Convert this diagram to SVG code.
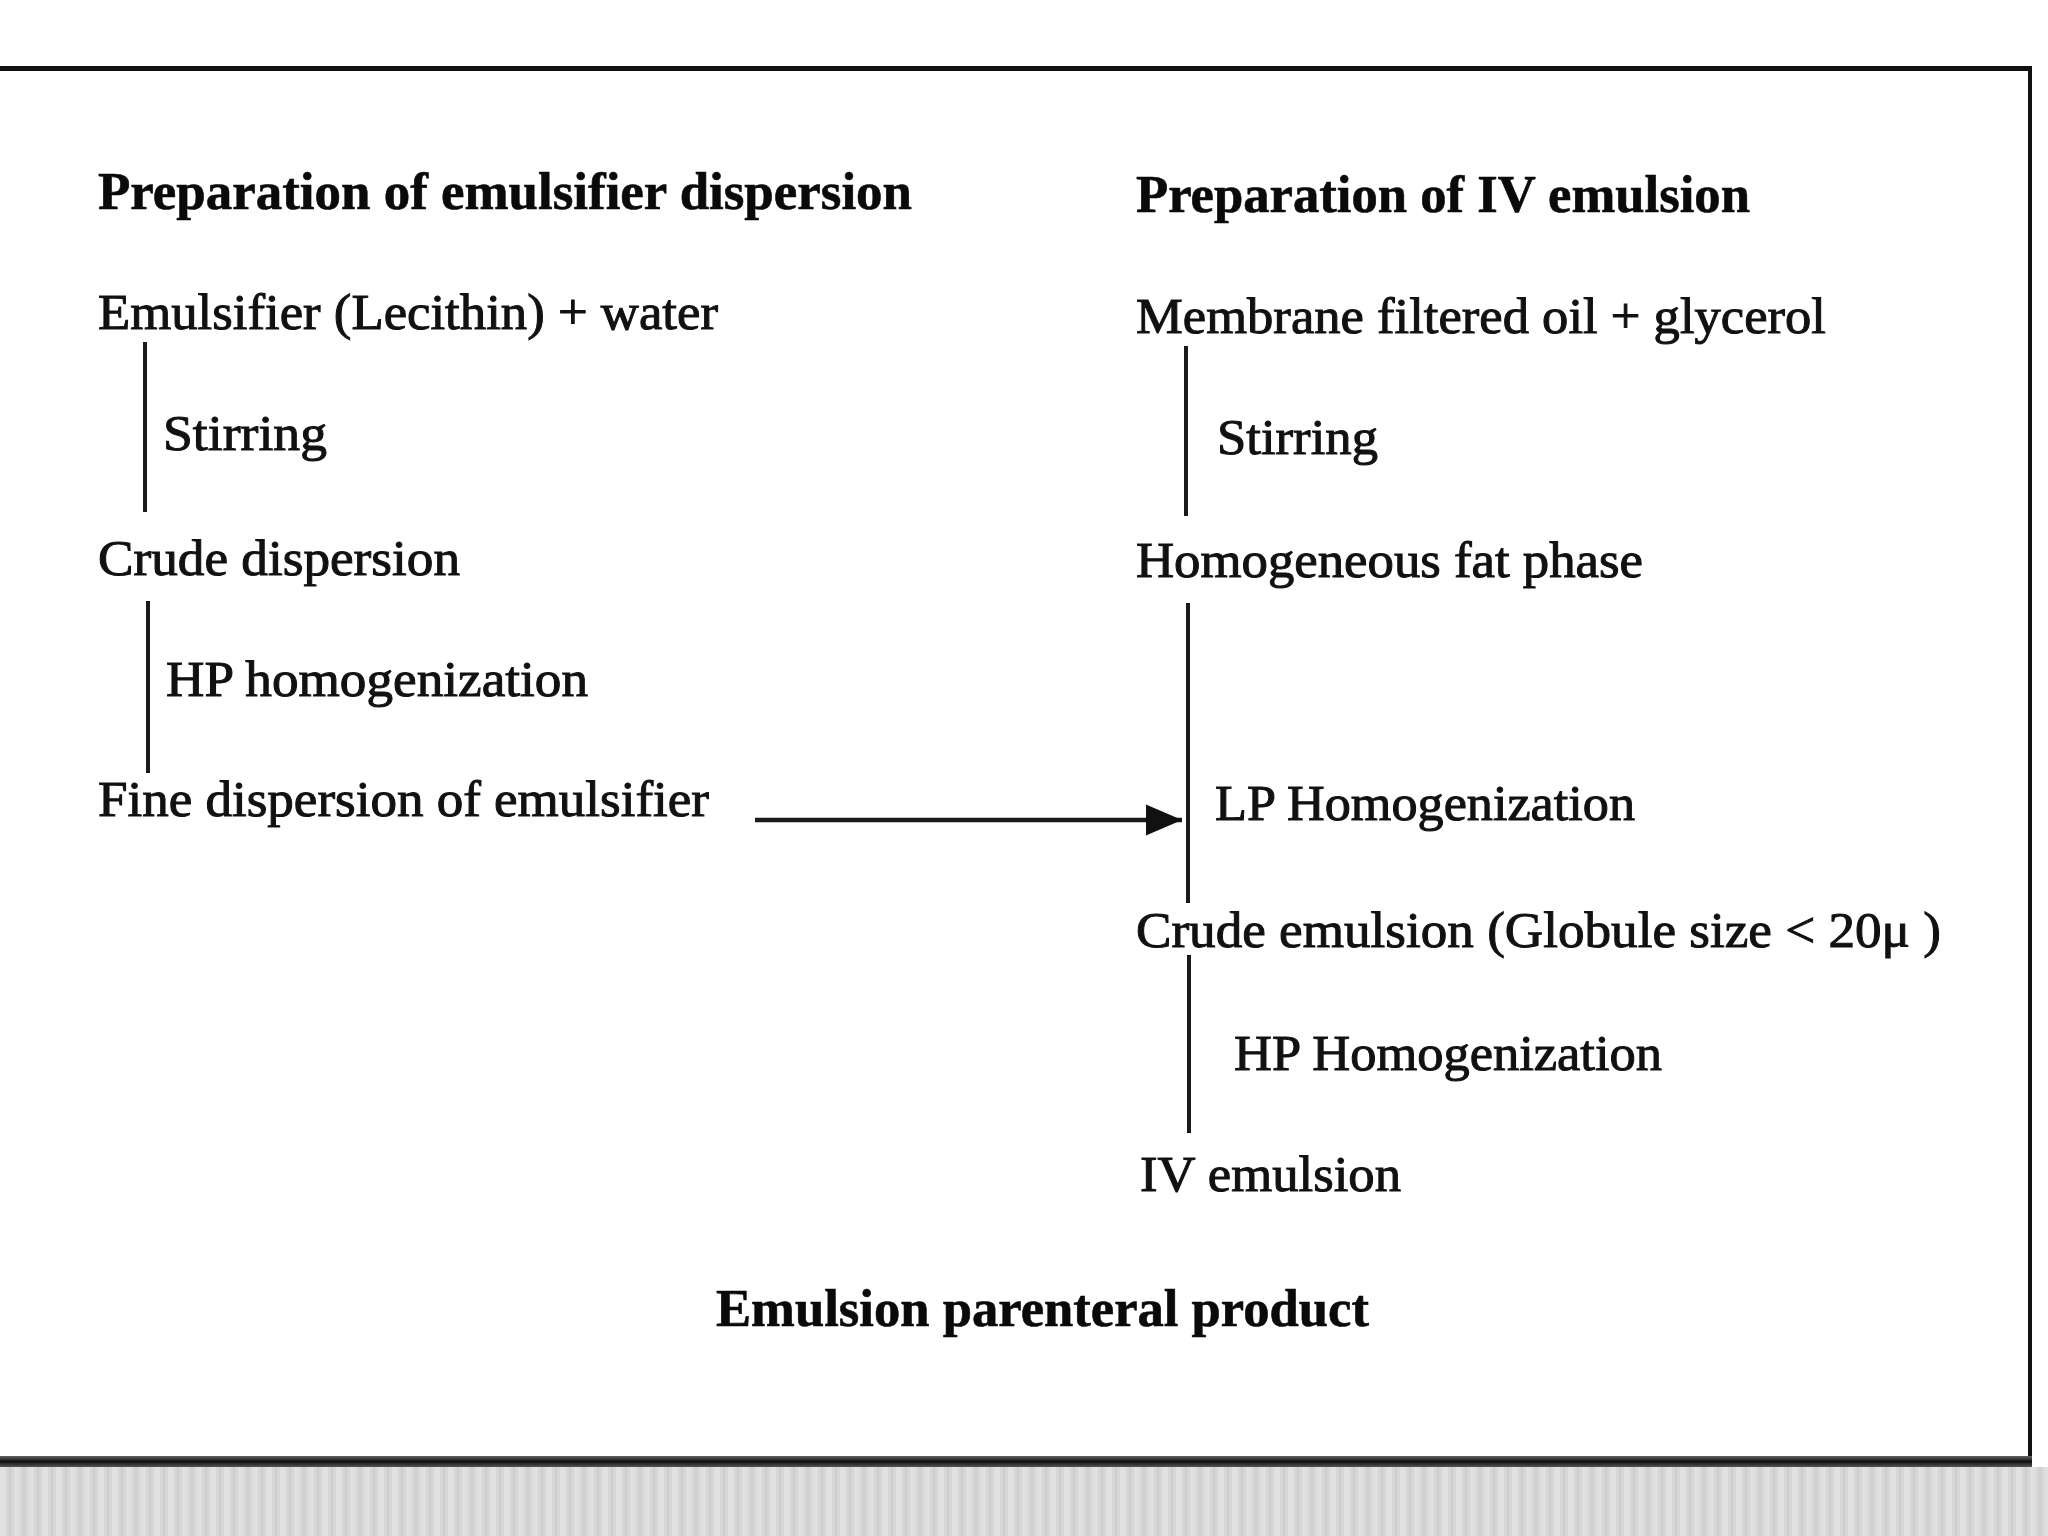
<svg xmlns="http://www.w3.org/2000/svg" width="2048" height="1536" viewBox="0 0 2048 1536">
  <defs>
    <style>
      .t { font-family: "Liberation Serif", "Times New Roman", serif; font-size: 50px; fill: #111; stroke: #111; stroke-width: 1px; }
      .h { font-family: "Liberation Serif", "Times New Roman", serif; font-size: 52px; font-weight: bold; fill: #0a0a0a; stroke: #0a0a0a; stroke-width: 0.6px; }
      .ln { stroke: #1a1a1a; stroke-width: 4; fill: none; }
      .ar { stroke: #1a1a1a; stroke-width: 4.5; fill: none; }
    </style>
    <marker id="arrow" viewBox="0 0 30 30" refX="30" refY="15" markerWidth="36" markerHeight="36" markerUnits="userSpaceOnUse" orient="auto">
      <path d="M0,2 L30,15 L0,28 Z" fill="#111"/>
    </marker>
    <pattern id="stripes" x="0" y="0" width="14" height="70" patternUnits="userSpaceOnUse">
      <rect width="14" height="70" fill="#d6d6d6"/>
      <rect x="0" width="6" height="70" fill="#e0e0e0"/>
      <rect x="9" width="2" height="70" fill="#cdcdcd"/>
    </pattern>
    <linearGradient id="bot" x1="0" y1="0" x2="0" y2="1">
      <stop offset="0" stop-color="#666"/>
      <stop offset="0.5" stop-color="#111"/>
      <stop offset="1" stop-color="#555"/>
    </linearGradient>
  </defs>

  <rect width="2048" height="1536" fill="#ffffff"/>
  <rect x="0" y="1467" width="2048" height="69" fill="url(#stripes)"/>

  <g id="frame">
    <rect x="0" y="66" width="2031" height="5" fill="#111"/>
    <rect x="2028" y="66" width="4" height="1400" fill="#111"/>
    <rect x="0" y="1456" width="2032" height="11" fill="url(#bot)"/>
  </g>

  <g id="left-column">
    <g id="n-left-title"><text class="h" x="98" y="209" textLength="814" lengthAdjust="spacingAndGlyphs">Preparation of emulsifier dispersion</text></g>
    <g id="n-emulsifier-water"><text class="t" x="98" y="329" textLength="620" lengthAdjust="spacingAndGlyphs">Emulsifier (Lecithin) + water</text></g>
    <g id="n-stirring-left"><text class="t" x="163" y="450" textLength="164" lengthAdjust="spacingAndGlyphs">Stirring</text></g>
    <g id="n-crude-dispersion"><text class="t" x="98" y="575" textLength="362" lengthAdjust="spacingAndGlyphs">Crude dispersion</text></g>
    <g id="n-hp-homog-left"><text class="t" x="166" y="696" textLength="422" lengthAdjust="spacingAndGlyphs">HP homogenization</text></g>
    <g id="n-fine-dispersion"><text class="t" x="98" y="816" textLength="611" lengthAdjust="spacingAndGlyphs">Fine dispersion of emulsifier</text></g>
  </g>

  <g id="right-column">
    <g id="n-right-title"><text class="h" x="1136" y="212" textLength="614" lengthAdjust="spacingAndGlyphs">Preparation of IV emulsion</text></g>
    <g id="n-membrane-oil"><text class="t" x="1136" y="333" textLength="690" lengthAdjust="spacingAndGlyphs">Membrane filtered oil + glycerol</text></g>
    <g id="n-stirring-right"><text class="t" x="1217" y="454" textLength="161" lengthAdjust="spacingAndGlyphs">Stirring</text></g>
    <g id="n-homog-fat"><text class="t" x="1136" y="577" textLength="507" lengthAdjust="spacingAndGlyphs">Homogeneous fat phase</text></g>
    <g id="n-lp-homog"><text class="t" x="1215" y="820" textLength="420" lengthAdjust="spacingAndGlyphs">LP Homogenization</text></g>
    <g id="n-crude-emulsion"><text class="t" x="1136" y="947" textLength="805" lengthAdjust="spacingAndGlyphs">Crude emulsion (Globule size &lt; 20μ )</text></g>
    <g id="n-hp-homog-right"><text class="t" x="1234" y="1070" textLength="428" lengthAdjust="spacingAndGlyphs">HP Homogenization</text></g>
    <g id="n-iv-emulsion"><text class="t" x="1140" y="1191" textLength="261" lengthAdjust="spacingAndGlyphs">IV emulsion</text></g>
  </g>

  <g id="n-product"><text class="h" x="716" y="1326" textLength="653" lengthAdjust="spacingAndGlyphs">Emulsion parenteral product</text></g>

  <g id="connectors">
    <line class="ln" x1="145" y1="342" x2="145" y2="512"/>
    <line class="ln" x1="148" y1="601" x2="148" y2="773"/>
    <line class="ln" x1="1186" y1="346" x2="1186" y2="516"/>
    <line class="ln" x1="1188" y1="603" x2="1188" y2="903"/>
    <line class="ln" x1="1189" y1="955" x2="1189" y2="1133"/>
    <line class="ar" x1="755" y1="820" x2="1182" y2="820" marker-end="url(#arrow)"/>
  </g>
</svg>
